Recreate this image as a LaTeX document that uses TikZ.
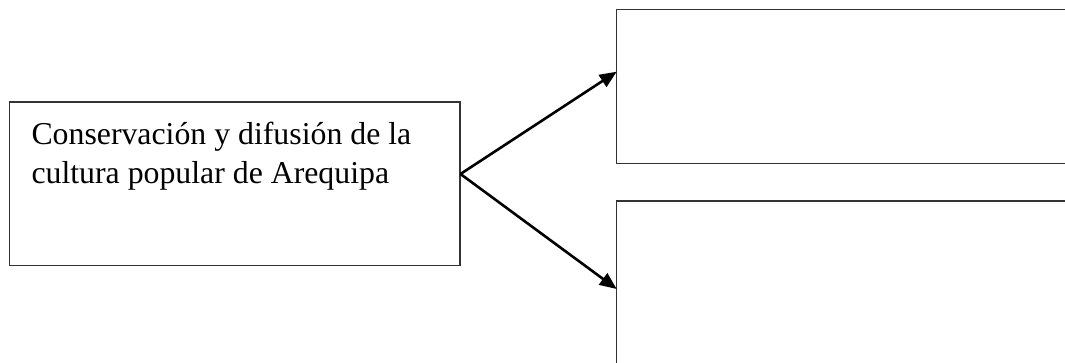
\documentclass[tikz,border=0pt]{standalone}
\usepackage{fontspec}
\setmainfont{Liberation Serif}
\usetikzlibrary{arrows.meta,calc}
\tikzset{
  boxframe/.style={draw=black!80, line width=1.4pt, inner sep=0pt, outer sep=0pt},
  linkarrow/.style={draw=black, line width=2.6pt, -{Triangle[length=17pt,width=14pt]}, shorten >=0pt},
  maintext/.style={inner sep=0pt, outer sep=0pt, anchor=base west, align=left,
    font=\fontsize{31.8pt}{39pt}\selectfont}
}
\begin{document}
\begin{tikzpicture}[x=1pt,y=1pt]
  \useasboundingbox (0,0) rectangle (1065,363);
  \clip (0,0) rectangle (1065,363);
  % left box
  \node[boxframe, anchor=south west, minimum width=450.5pt, minimum height=163.5pt] (src) at (9.5,97.5) {};
  \node[maintext, anchor=base west] (label) at (31.5,218.7) {Conservación y difusión de la};
  \node[maintext, anchor=base west] (label2) at (31.5,179.7) {cultura popular de Arequipa};
  % right boxes (extend past the right edge)
  \node[boxframe, anchor=south west, minimum width=480pt, minimum height=154pt] (top) at (616.7,199.5) {};
  \node[boxframe, anchor=south west, minimum width=480pt, minimum height=200pt] (bot) at (616.7,-38) {};
  % connectors
  \coordinate (fork) at (460.5,189);
  \coordinate (toptip) at ($(top.south west)+(0,91.8)$);
  \coordinate (bottip) at ($(bot.south west)+(0,112)$);
  \draw[linkarrow] (fork) -- (toptip);
  \draw[linkarrow] (fork) -- (bottip);
\end{tikzpicture}
\end{document}
